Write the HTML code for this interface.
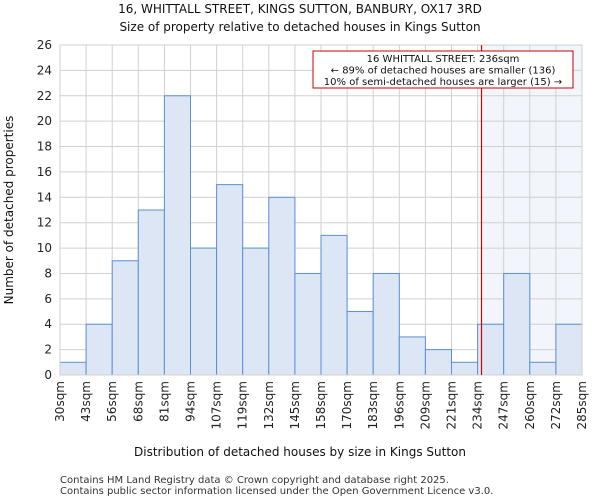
<!DOCTYPE html>
<html><head><meta charset="utf-8"><style>
body{margin:0;background:#fff;}
svg{display:block;font-family:"DejaVu Sans","Liberation Sans",sans-serif;}
</style></head><body>
<svg id="c" width="600" height="500"></svg>
<script>
const binLabels=["30sqm","43sqm","56sqm","68sqm","81sqm","94sqm","107sqm","119sqm","132sqm","145sqm","158sqm","170sqm","183sqm","196sqm","209sqm","221sqm","234sqm","247sqm","260sqm","272sqm","285sqm"];
const counts=[1,4,9,13,22,10,15,10,14,8,11,5,8,3,2,1,4,8,1,4];
const yTicks=[0,2,4,6,8,10,12,14,16,18,20,22,24,26];
const markerBin=16.15;
const NS="http://www.w3.org/2000/svg";
const svg=document.getElementById('c');
const L=60,R=582,T=45,B=375,yMax=26;
const bw=(R-L)/counts.length;
const xs=i=>L+i*bw;
const ys=v=>B-(v/yMax)*(B-T);
function mk(t,a,p){const e=document.createElementNS(NS,t);for(const k in a)e.setAttribute(k,a[k]);(p||svg).appendChild(e);return e;}
let sh=mk('rect',{x:xs(markerBin),y:T,width:R-xs(markerBin),height:B-T,fill:'#f2f5fc'});


yTicks.forEach(v=>{let g=mk('line',{x1:L,x2:R,y1:ys(v),y2:ys(v),stroke:'#d0d0d0','stroke-width':1});


let t=mk('text',{x:L-8,y:ys(v)+4,'text-anchor':'end','font-size':12,fill:'#222'});t.textContent=v;

});
binLabels.forEach((lab,i)=>{let g=mk('line',{x1:xs(i),x2:xs(i),y1:T,y2:B,stroke:'#d0d0d0','stroke-width':1});


let t=mk('text',{transform:`translate(${xs(i)+4},${B+6}) rotate(-90)`,'text-anchor':'end','font-size':12,fill:'#222'});t.textContent=lab;

});
counts.forEach((v,i)=>{let r=mk('rect',{x:xs(i),y:ys(v),width:bw,height:B-ys(v),fill:'#dce6f4',stroke:'#5b8fd6','stroke-width':1});

});
let fr=mk('rect',{x:L,y:T,width:R-L,height:B-T,fill:'none',stroke:'#d0d0d0'});


let ln=mk('line',{x1:xs(markerBin),x2:xs(markerBin),y1:T,y2:B,stroke:'#e00000','stroke-width':1.2});


let ag=mk('g',{});


mk('rect',{x:313,y:51,width:260,height:37,fill:'#fff',stroke:'#cc0000','stroke-width':1},ag);
["16 WHITTALL STREET: 236sqm","← 89% of detached houses are smaller (136)","10% of semi-detached houses are larger (15) →"].forEach((s,i)=>{
let t=mk('text',{x:443,y:62+i*11.5,'text-anchor':'middle','font-size':10,fill:'#111'},ag);t.textContent=s;});
function txt(s,a,n){let t=mk('text',a);t.textContent=s;}
txt("16, WHITTALL STREET, KINGS SUTTON, BANBURY, OX17 3RD",{x:300,y:13,'text-anchor':'middle','font-size':12,fill:'#111'},'chart-title');
txt("Size of property relative to detached houses in Kings Sutton",{x:300,y:31,'text-anchor':'middle','font-size':12,fill:'#111'},'chart-subtitle');
txt("Distribution of detached houses by size in Kings Sutton",{x:300,y:456,'text-anchor':'middle','font-size':12,fill:'#111'},'x-axis-title');
txt("Number of detached properties",{transform:'translate(13,210) rotate(-90)','text-anchor':'middle','font-size':12,fill:'#111'},'y-axis-title');
txt("Contains HM Land Registry data © Crown copyright and database right 2025.",{x:60,y:483,'font-size':10,fill:'#333'},'footer-line-1');
txt("Contains public sector information licensed under the Open Government Licence v3.0.",{x:60,y:494,'font-size':10,fill:'#333'},'footer-line-2');
</script>
</body></html>
